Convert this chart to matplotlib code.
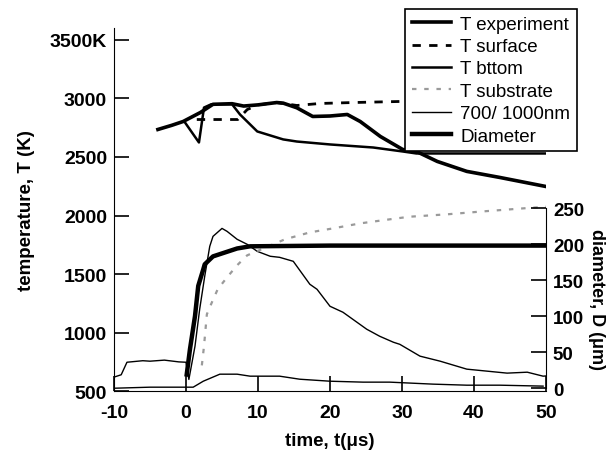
import matplotlib
matplotlib.use('Agg')
import matplotlib.pyplot as plt

plt.rcParams['font.family'] = ['Liberation Sans', 'DejaVu Sans']
plt.rcParams['axes.unicode_minus'] = False

# T experiment (K)
t_exp = [-3.9, -2, -0.4, 2, 3.75, 6.4, 8, 10, 12.6, 13.5, 15.4, 17.6, 20, 22.4, 24.2, 27, 30.1, 32, 34.9, 39, 43.6, 49.9]
T_exp = [2735, 2770, 2803, 2880, 2950, 2955, 2935, 2945, 2965, 2960, 2920, 2846, 2850, 2863, 2803, 2675, 2564, 2547, 2462, 2377, 2325, 2249]

# T surface (K)
t_surf = [1.5, 7.2, 8.5, 10, 12.6, 15.4, 18.6, 23.2, 29.7, 40, 50]
T_surf = [2820, 2820, 2905, 2945, 2965, 2940, 2957, 2965, 2974, 2978, 2980]

# T bottom (K)
t_bot = [-0.2, 1.8, 2.5, 3.5, 6.4, 7.5, 9.9, 13.5, 15.4, 20, 26, 30.1, 32, 50]
T_bot = [2800, 2624, 2922, 2950, 2950, 2863, 2718, 2650, 2632, 2607, 2581, 2547, 2530, 2530]

# T substrate (K)
t_sub = [2.2, 2.5, 2.9, 3.6, 4.4, 5.7, 7.1, 8.5, 13.75, 17.2, 20.4, 24.2, 29.3, 31.1, 36.2, 41.2, 46.8, 50]
T_sub = [720, 884, 1157, 1259, 1370, 1472, 1575, 1660, 1797, 1856, 1890, 1933, 1976, 1990, 2010, 2035, 2061, 2075]

# 700/1000nm signals
t_sig1 = [-10, -9, -8.2, -6, -5, -3, -1, 0, 0.4, 1.25, 1.9, 2.6, 3.3, 3.75, 5, 5.7, 7.1, 8.5, 9.9, 11.7, 13, 14.9,
          17.2, 18.2, 20, 21.8, 25.1, 26.9, 28.8, 29.7, 32.5, 35.3, 39, 41.8, 44.6, 47.4, 49.6, 50]
sig1 = [620, 640, 747, 760, 756, 765, 750, 747, 600, 884, 1200, 1481, 1737, 1822, 1890, 1865, 1797, 1754, 1694, 1652, 1643, 1609,
        1413, 1370, 1225, 1174, 1029, 969, 918, 900, 799, 756, 688, 671, 654, 662, 628, 630]
t_sig2 = [-10, -5, 0, 1, 2.4, 4.7, 7.1, 8.9, 11.7, 13, 15.8, 20, 24.6, 28.3, 34.3, 39, 43.6, 49.6]
sig2 = [525, 534, 534, 534, 585, 645, 645, 628, 628, 628, 602, 585, 577, 577, 560, 551, 551, 543]

# Diameter (um)
t_dia = [0.1, 0.55, 1.25, 1.7, 2.4, 2.6, 3.75, 7.1, 8.9, 20, 50]
dia = [19, 54, 100, 142, 165, 172, 183, 194, 197, 198, 198]

fig = plt.figure(figsize=(6.08, 4.56), dpi=100)
ax = fig.add_axes([0.1875, 0.140, 0.7105, 0.796])

ax.plot(t_sig2, sig2, color='black', lw=1.0)
ax.plot(t_sig1, sig1, color='black', lw=1.0, label='700/ 1000nm')
ax.plot(t_sub, T_sub, color='#9a9a9a', lw=1.6, ls=(0, (2, 3.5)), label='T substrate')
ax.plot(t_bot, T_bot, color='black', lw=1.8, label='T bttom')
ax.plot(t_surf, T_surf, color='black', lw=2.0, ls=(0, (3, 3)), label='T surface')
ax.plot(t_exp, T_exp, color='black', lw=2.6, label='T experiment')

ax.set_xlim(-10, 50)
ax.set_ylim(500, 3600)
ax.set_xticks([-10, 0, 10, 20, 30, 40, 50])
ax.set_yticks([500, 1000, 1500, 2000, 2500, 3000, 3500])
ax.set_yticklabels(['500', '1000', '1500', '2000', '2500', '3000', '3500K'])
ax.spines['top'].set_visible(False)
ax.spines['right'].set_visible(False)
ax.tick_params(direction='in', length=11, width=1.2, labelsize=14)
ax.tick_params(axis='x', pad=9)
ax.tick_params(axis='y', pad=5)
for lab in ax.get_xticklabels() + ax.get_yticklabels():
    lab.set_fontweight('bold')
ax.set_xlabel('time, t(μs)', fontsize=13.5, fontweight='bold', labelpad=8)
ax.set_ylabel('temperature, T (K)', fontsize=13.5, fontweight='bold', labelpad=11)

ax2 = ax.twinx()
ax2.plot(t_dia, dia, color='black', lw=3.2, label='Diameter')
ax2.set_ylim(-4.2, 500)
ax2.set_yticks([0, 50, 100, 150, 200, 250])
ax2.spines['right'].set_bounds(0, 250)
for s in ['top', 'left', 'bottom']:
    ax2.spines[s].set_visible(False)
ax2.tick_params(direction='in', length=11, width=1.2, labelsize=13.5, pad=5)
for lab in ax2.get_yticklabels():
    lab.set_fontweight('bold')
ax2.set_ylabel('diameter, D (μm)', fontsize=13, fontweight='bold', rotation=270, va='center', ha='center')
ax2.yaxis.set_label_coords(1.118, 0.255)

h1, l1 = ax.get_legend_handles_labels()
h2, l2 = ax2.get_legend_handles_labels()
handles = dict(zip(l1 + l2, h1 + h2))
order = ['T experiment', 'T surface', 'T bttom', 'T substrate', '700/ 1000nm', 'Diameter']
leg = fig.legend([handles[k] for k in order], order, loc='upper right', bbox_to_anchor=(0.949, 0.978),
                 borderaxespad=0, fontsize=13.5, frameon=True, fancybox=False, framealpha=1, edgecolor='black',
                 labelspacing=0.28, handlelength=2.1, handletextpad=0.5, borderpad=0.35)
leg.get_frame().set_linewidth(1.2)

fig.savefig('out.png', dpi=100)
